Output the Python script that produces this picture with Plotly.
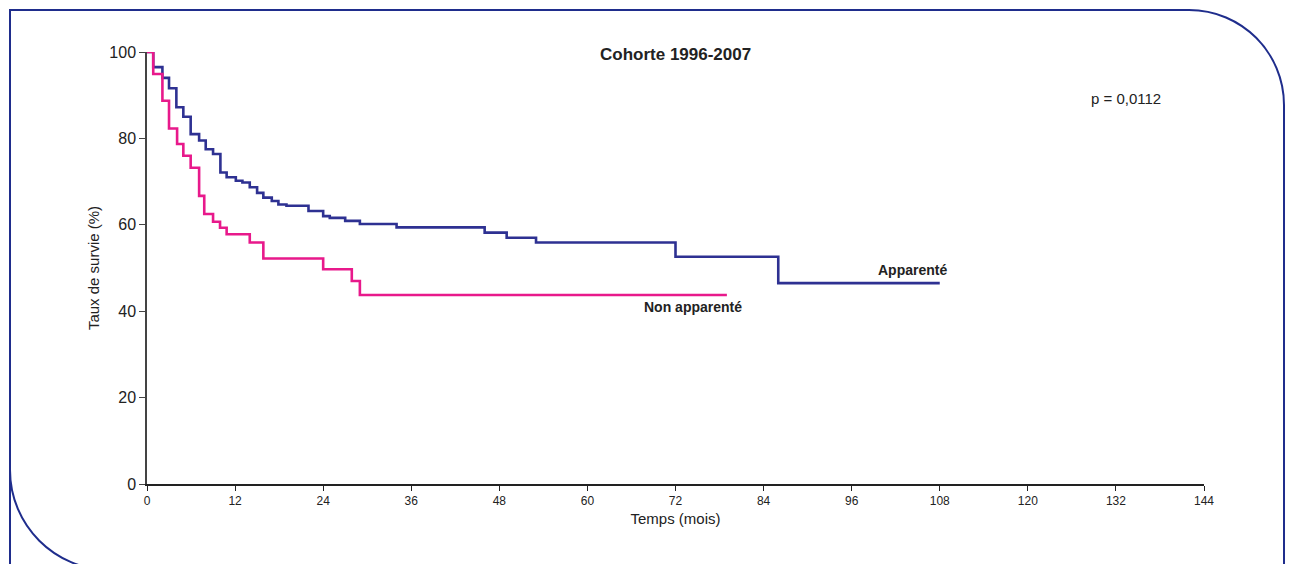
import plotly.graph_objects as go

# Kaplan-Meier style curves
app_time = [0, 0.85, 2.1, 3.0, 4.0, 4.95, 5.95, 7.1, 8.0, 9.0, 10.0, 10.85, 12.1, 13.0,
            14.0, 15.0, 15.85, 17.0, 17.9, 19.0, 22.0, 24.0, 24.9, 27.0, 29.0, 34.0,
            46.0, 49.0, 53.0, 72.0, 86.0, 108.0]
app_surv = [100, 96.5, 94.0, 91.6, 87.2, 85.0, 81.0, 79.5, 77.5, 76.4, 72.1, 71.0, 70.2, 69.8,
            68.7, 67.4, 66.3, 65.5, 64.7, 64.4, 63.2, 62.0, 61.6, 60.9, 60.2, 59.4,
            58.2, 57.0, 55.9, 52.6, 46.5, 46.5]

non_time = [0, 0.85, 2.1, 3.0, 4.1, 4.95, 5.95, 7.1, 7.8, 9.0, 9.95, 10.85, 14.0, 15.85,
            24.0, 27.9, 29.0, 79.0]
non_surv = [100, 94.9, 88.7, 82.3, 78.7, 76.0, 73.2, 66.7, 62.5, 60.7, 59.3, 57.8, 55.9, 52.2,
            49.7, 47.0, 43.75, 43.75]

x_ticks = list(range(0, 145, 12))
y_ticks = [0, 20, 40, 60, 80, 100]

BLUE = "#2e3192"
PINK = "#e8198b"
FRAME = "#1f2d8c"
TXT = "#222"
FONT = "Liberation Sans"

# page body has an 8px margin; keep the figure inside the window so no scrollbar shows
OFF = 8
W, H = 1294 - OFF, 572 - 2 * OFF
# plot area in window pixels
L, R, T, B = 147, 1204, 52, 484


def pt(px, py):
    # window pixel -> paper coordinates
    x = (px - L) / (R - L)
    y = (B - py) / (B - T)
    return f"{x:.5f},{y:.5f}"


k = 0.5523
path = (
    f"M {pt(10, 620)} L {pt(10, 470)} "
    f"C {pt(10, 470 + k * 100)} {pt(110 - k * 100, 570)} {pt(110, 570)} "
    f"M {pt(10, 470)} L {pt(10, 10)} L {pt(1189, 10)} "
    f"C {pt(1189 + k * 95, 10)} {pt(1284, 105 - k * 95)} {pt(1284, 105)} "
    f"L {pt(1284, 620)}"
)

fig = go.Figure()

fig.add_trace(go.Scatter(x=app_time, y=app_surv, mode="lines", line_shape="hv",
                         line=dict(color=BLUE, width=2.6), name="Apparenté"))
fig.add_trace(go.Scatter(x=non_time, y=non_surv, mode="lines", line_shape="hv",
                         line=dict(color=PINK, width=2.6), name="Non apparenté"))

fig.add_shape(type="path", xref="paper", yref="paper", path=path,
              line=dict(color=FRAME, width=2))

fig.add_annotation(x=app_time[-1], y=49.5, text="<b>Apparenté</b>", showarrow=False,
                   xanchor="right", yanchor="middle", xshift=9,
                   font=dict(size=14, color=TXT, family=FONT))
fig.add_annotation(x=non_time[-1], y=41.0, text="<b>Non apparenté</b>", showarrow=False,
                   xanchor="right", yanchor="middle", xshift=17,
                   font=dict(size=14, color=TXT, family=FONT))
fig.add_annotation(x=72, y=99.5, text="<b>Cohorte 1996-2007</b>", showarrow=False,
                   yanchor="middle",
                   font=dict(size=17, color=TXT, family=FONT))
fig.add_annotation(x=133.4, y=89.35, text="p = 0,0112", showarrow=False,
                   yanchor="middle",
                   font=dict(size=15, color=TXT, family=FONT))

fig.update_layout(
    width=W, height=H,
    margin=dict(l=L - OFF, r=1294 - R, t=T - OFF, b=572 - OFF - B),
    paper_bgcolor="white", plot_bgcolor="white",
    showlegend=False,
    font=dict(family=FONT, color=TXT),
    xaxis=dict(range=[0, 144], tickvals=x_ticks, ticks="outside", ticklen=5,
               tickcolor="#222", showline=True, linecolor="#222", linewidth=1.5,
               showgrid=False, zeroline=False, tickfont=dict(size=12),
               title=dict(text="Temps (mois)", font=dict(size=15), standoff=6)),
    yaxis=dict(range=[0, 100], tickvals=y_ticks, ticks="outside", ticklen=6,
               tickcolor="#444", showline=True, linecolor="#444", linewidth=1.5,
               showgrid=False, zeroline=False, tickfont=dict(size=16),
               title=dict(text="Taux de survie (%)", font=dict(size=15), standoff=6)),
)

fig.write_html("out.html")
